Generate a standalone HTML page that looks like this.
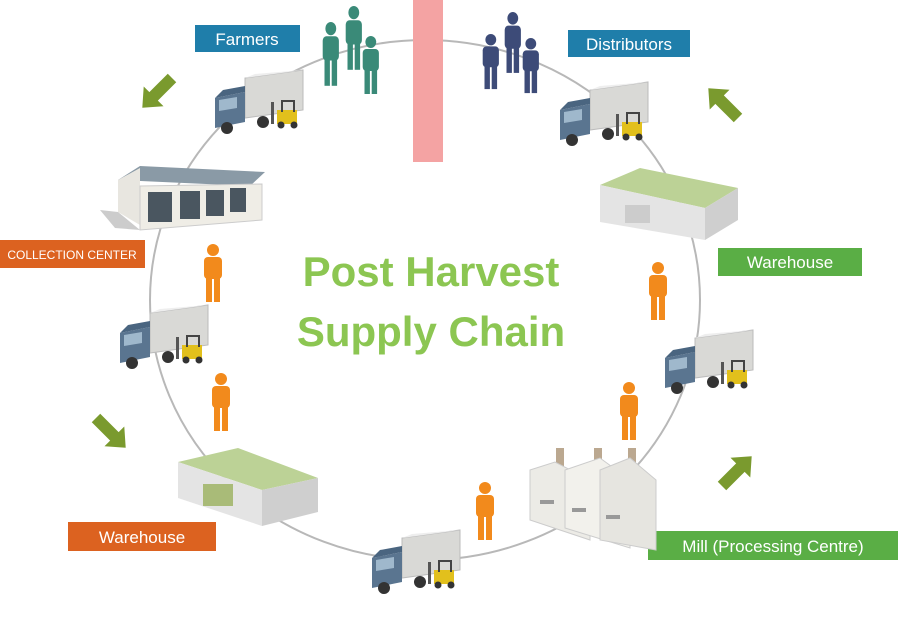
<!DOCTYPE html>
<html><head><meta charset="utf-8"><style>
html,body{margin:0;padding:0;background:#fff;}
svg{display:block;}
text{font-family:"Liberation Sans",sans-serif;}
</style></head><body>
<svg width="900" height="620" viewBox="0 0 900 620" xmlns="http://www.w3.org/2000/svg">
<defs>
 <g id="truck">
  <polygon points="30,8 88,0 88,40 30,48" fill="#d9d9d6" stroke="#bbb"/>
  <polygon points="30,8 40,4 88,0 30,8" fill="#eee"/>
  <polygon points="0,28 30,22 30,52 0,58" fill="#5a7590"/>
  <polygon points="4,30 22,27 22,38 4,41" fill="#9fb8cc"/>
  <polygon points="0,28 8,20 30,16 30,22" fill="#4a6580"/>
  <circle cx="12" cy="58" r="6" fill="#333"/>
  <circle cx="48" cy="52" r="6" fill="#333"/>
  <g transform="translate(62,30)">
   <rect x="0" y="10" width="20" height="14" fill="#e2c01c"/>
   <rect x="4" y="0" width="2" height="12" fill="#444"/>
   <rect x="16" y="0" width="2" height="12" fill="#444"/>
   <rect x="4" y="0" width="14" height="2" fill="#444"/>
   <rect x="-6" y="2" width="3" height="22" fill="#555"/>
   <circle cx="4" cy="25" r="3.5" fill="#333"/>
   <circle cx="17" cy="25" r="3.5" fill="#333"/>
  </g>
 </g>
 <g id="person">
  <circle cx="12" cy="6" r="6"/>
  <rect x="3" y="13" width="18" height="22" rx="4"/>
  <rect x="5" y="32" width="6" height="26"/>
  <rect x="13" y="32" width="6" height="26"/>
 </g>
 <g id="arrow">
  <polygon points="0,-6 26,-6 26,-14 42,0 26,14 26,6 0,6"/>
 </g>
</defs>

<ellipse cx="425" cy="300" rx="275" ry="260" fill="none" stroke="#b8b8b8" stroke-width="2"/>
<rect x="413" y="0" width="30" height="162" fill="#f4a3a3"/>

<text x="431" y="286" font-size="42" font-weight="bold" fill="#8cc652" text-anchor="middle">Post Harvest</text>
<text x="431" y="346" font-size="42" font-weight="bold" fill="#8cc652" text-anchor="middle">Supply Chain</text>

<rect x="195" y="25" width="105" height="27" fill="#1f7eaa"/>
<text x="247" y="45" font-size="17" fill="#fff" text-anchor="middle">Farmers</text>
<rect x="568" y="30" width="122" height="27" fill="#1f7eaa"/>
<text x="629" y="50" font-size="17" fill="#fff" text-anchor="middle">Distributors</text>
<rect x="0" y="240" width="145" height="28" fill="#dc6220"/>
<text x="72" y="259" font-size="12" fill="#fff" text-anchor="middle">COLLECTION CENTER</text>
<rect x="718" y="248" width="144" height="28" fill="#5aae45"/>
<text x="790" y="268" font-size="17" fill="#fff" text-anchor="middle">Warehouse</text>
<rect x="68" y="522" width="148" height="29" fill="#dc6220"/>
<text x="142" y="543" font-size="17" fill="#fff" text-anchor="middle">Warehouse</text>
<rect x="648" y="531" width="250" height="29" fill="#5aae45"/>
<text x="773" y="552" font-size="17" fill="#fff" text-anchor="middle">Mill (Processing Centre)</text>

<g fill="#7a9a2e">
 <use href="#arrow" transform="translate(172,78) rotate(135)"/>
 <use href="#arrow" transform="translate(738,118) rotate(-135)"/>
 <use href="#arrow" transform="translate(96,418) rotate(45)"/>
 <use href="#arrow" transform="translate(722,486) rotate(-45)"/>
</g>

<g fill="#3a8a78">
 <use href="#person" transform="translate(320,22) scale(0.9,1.1)"/>
 <use href="#person" transform="translate(343,6) scale(0.9,1.1)"/>
 <use href="#person" transform="translate(360,36) scale(0.9,1.0)"/>
</g>
<g fill="#3d4b78">
 <use href="#person" transform="translate(480,34) scale(0.9,0.95)"/>
 <use href="#person" transform="translate(502,12) scale(0.9,1.05)"/>
 <use href="#person" transform="translate(520,38) scale(0.9,0.95)"/>
</g>

<g fill="#f28a1c">
 <use href="#person" transform="translate(201,244)"/>
 <use href="#person" transform="translate(209,373)"/>
 <use href="#person" transform="translate(646,262)"/>
 <use href="#person" transform="translate(617,382)"/>
 <use href="#person" transform="translate(473,482)"/>
</g>

<use href="#truck" transform="translate(215,70)"/>
<use href="#truck" transform="translate(560,82)"/>
<use href="#truck" transform="translate(120,305)"/>
<use href="#truck" transform="translate(665,330)"/>
<use href="#truck" transform="translate(372,530)"/>

<polygon points="118,180 140,166 265,172 250,186" fill="#8a9aa6"/>
<polygon points="118,180 140,168 140,225 118,212" fill="#e8e6e0"/>
<polygon points="140,186 262,184 262,220 140,230" fill="#efede6" stroke="#ccc"/>
<g fill="#4a5660"><rect x="148" y="192" width="24" height="30"/><rect x="180" y="191" width="20" height="28"/><rect x="206" y="190" width="18" height="26"/><rect x="230" y="188" width="16" height="24"/></g>
<polygon points="100,210 118,212 140,230 115,228" fill="#ccc"/>

<polygon points="600,185 640,168 738,188 705,208" fill="#bcd296"/>
<polygon points="600,185 705,208 705,240 600,222" fill="#e4e4e4"/>
<polygon points="705,208 738,188 738,220 705,240" fill="#cfcfcf"/>
<rect x="625" y="205" width="25" height="18" fill="#ccc"/>

<polygon points="178,462 238,448 318,478 262,490" fill="#bcd296"/>
<polygon points="178,462 262,490 262,526 178,498" fill="#e4e4e4"/>
<polygon points="262,490 318,478 318,512 262,526" fill="#cfcfcf"/>
<rect x="203" y="484" width="30" height="22" fill="#a9bb78"/>

<g>
 <rect x="556" y="448" width="8" height="30" fill="#bba890"/>
 <rect x="594" y="448" width="8" height="30" fill="#bba890"/>
 <rect x="628" y="448" width="8" height="30" fill="#bba890"/>
 <polygon points="530,470 555,462 590,480 590,540 530,520" fill="#ecebe6" stroke="#ccc"/>
 <polygon points="565,470 600,458 630,480 630,548 565,528" fill="#f2f1ec" stroke="#ccc"/>
 <polygon points="600,470 630,458 656,480 656,550 600,540" fill="#e6e5e0" stroke="#ccc"/>
 <g fill="#999"><rect x="540" y="500" width="14" height="4"/><rect x="572" y="508" width="14" height="4"/><rect x="606" y="515" width="14" height="4"/></g>
</g>
</svg>
</body></html>
